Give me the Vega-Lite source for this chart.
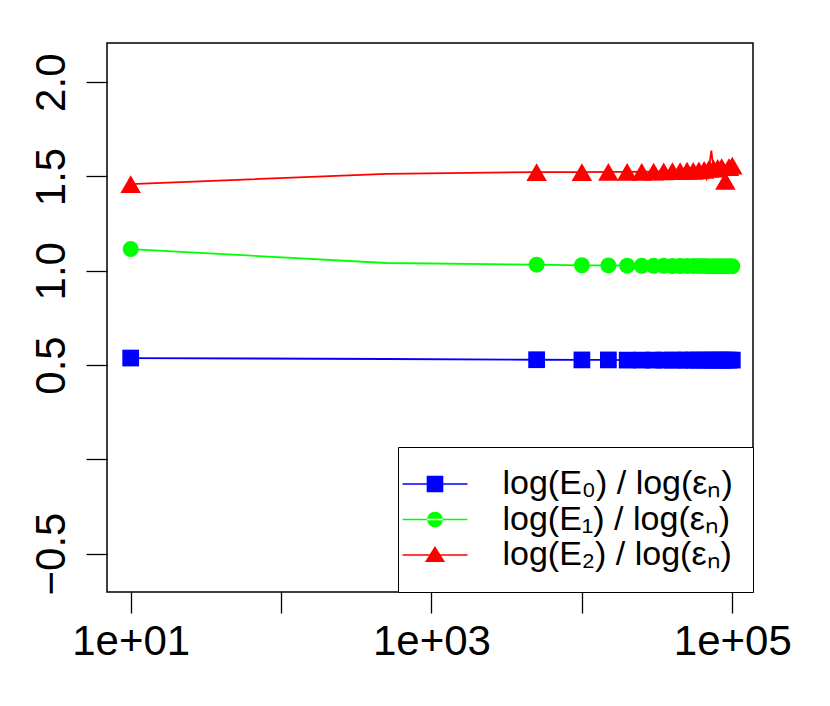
{
  "$schema": "https://vega.github.io/schema/vega-lite/v6.json",
  "width": 646,
  "height": 549,
  "autosize": {"type": "none"},
  "padding": {"left": 107, "top": 43, "right": 77, "bottom": 114},
  "background": "#ffffff",
  "data": {
    "values": [
      {"N": 10, "series": "E0", "value": 0.537},
      {"N": 500, "series": "E0", "value": 0.532},
      {"N": 5000, "series": "E0", "value": 0.528},
      {"N": 10000, "series": "E0", "value": 0.527},
      {"N": 15000, "series": "E0", "value": 0.527},
      {"N": 20000, "series": "E0", "value": 0.526},
      {"N": 25000, "series": "E0", "value": 0.526},
      {"N": 30000, "series": "E0", "value": 0.526},
      {"N": 35000, "series": "E0", "value": 0.526},
      {"N": 40000, "series": "E0", "value": 0.526},
      {"N": 45000, "series": "E0", "value": 0.526},
      {"N": 50000, "series": "E0", "value": 0.526},
      {"N": 55000, "series": "E0", "value": 0.526},
      {"N": 60000, "series": "E0", "value": 0.526},
      {"N": 65000, "series": "E0", "value": 0.526},
      {"N": 70000, "series": "E0", "value": 0.526},
      {"N": 75000, "series": "E0", "value": 0.526},
      {"N": 80000, "series": "E0", "value": 0.526},
      {"N": 85000, "series": "E0", "value": 0.526},
      {"N": 90000, "series": "E0", "value": 0.526},
      {"N": 95000, "series": "E0", "value": 0.526},
      {"N": 100000, "series": "E0", "value": 0.526},
      {"N": 10, "series": "E1", "value": 1.115},
      {"N": 500, "series": "E1", "value": 1.041},
      {"N": 5000, "series": "E1", "value": 1.032},
      {"N": 10000, "series": "E1", "value": 1.029},
      {"N": 15000, "series": "E1", "value": 1.028},
      {"N": 20000, "series": "E1", "value": 1.027},
      {"N": 25000, "series": "E1", "value": 1.026},
      {"N": 30000, "series": "E1", "value": 1.026},
      {"N": 35000, "series": "E1", "value": 1.026},
      {"N": 40000, "series": "E1", "value": 1.025},
      {"N": 45000, "series": "E1", "value": 1.025},
      {"N": 50000, "series": "E1", "value": 1.025},
      {"N": 55000, "series": "E1", "value": 1.025},
      {"N": 60000, "series": "E1", "value": 1.025},
      {"N": 65000, "series": "E1", "value": 1.025},
      {"N": 70000, "series": "E1", "value": 1.024},
      {"N": 75000, "series": "E1", "value": 1.024},
      {"N": 80000, "series": "E1", "value": 1.024},
      {"N": 85000, "series": "E1", "value": 1.024},
      {"N": 90000, "series": "E1", "value": 1.024},
      {"N": 95000, "series": "E1", "value": 1.024},
      {"N": 100000, "series": "E1", "value": 1.024},
      {"N": 10, "series": "E2", "value": 1.459},
      {"N": 500, "series": "E2", "value": 1.514},
      {"N": 5000, "series": "E2", "value": 1.523},
      {"N": 10000, "series": "E2", "value": 1.523},
      {"N": 15000, "series": "E2", "value": 1.524},
      {"N": 20000, "series": "E2", "value": 1.524},
      {"N": 25000, "series": "E2", "value": 1.525},
      {"N": 30000, "series": "E2", "value": 1.526},
      {"N": 35000, "series": "E2", "value": 1.527},
      {"N": 40000, "series": "E2", "value": 1.528},
      {"N": 45000, "series": "E2", "value": 1.529},
      {"N": 50000, "series": "E2", "value": 1.531},
      {"N": 55000, "series": "E2", "value": 1.530},
      {"N": 60000, "series": "E2", "value": 1.533},
      {"N": 62500, "series": "E2", "value": 1.545},
      {"N": 65000, "series": "E2", "value": 1.535},
      {"N": 67500, "series": "E2", "value": 1.490},
      {"N": 70000, "series": "E2", "value": 1.540},
      {"N": 72500, "series": "E2", "value": 1.637},
      {"N": 75000, "series": "E2", "value": 1.542},
      {"N": 77500, "series": "E2", "value": 1.548},
      {"N": 80000, "series": "E2", "value": 1.545},
      {"N": 85000, "series": "E2", "value": 1.550},
      {"N": 87500, "series": "E2", "value": 1.535},
      {"N": 90000, "series": "E2", "value": 1.477},
      {"N": 92500, "series": "E2", "value": 1.555},
      {"N": 95000, "series": "E2", "value": 1.550},
      {"N": 100000, "series": "E2", "value": 1.558}
    ]
  },
  "encoding": {
    "x": {
      "field": "N",
      "type": "quantitative",
      "title": null,
      "scale": {"type": "log", "domain": [6.958, 137300], "nice": false},
      "axis": {
        "values": [10, 100, 1000, 10000, 100000],
        "labelExpr": "datum.value == 10 ? '1e+01' : datum.value == 1000 ? '1e+03' : datum.value == 100000 ? '1e+05' : ''",
        "labelPadding": 8
      }
    },
    "y": {
      "field": "value",
      "type": "quantitative",
      "title": null,
      "scale": {"domain": [-0.704, 2.208], "nice": false, "zero": false},
      "axis": {
        "values": [-0.5, 0, 0.5, 1, 1.5, 2],
        "labelExpr": "datum.value == 0 ? '' : format(datum.value, '.1f')",
        "labelAngle": 270,
        "labelAlign": "center",
        "labelBaseline": "alphabetic",
        "labelPadding": 22
      }
    },
    "color": {
      "field": "series",
      "type": "nominal",
      "scale": {"domain": ["E0", "E1", "E2"], "range": ["#0000ff", "#00ff00", "#ff0000"]},
      "legend": null
    }
  },
  "layer": [
    {
      "mark": {"type": "line", "strokeWidth": 1.8}
    },
    {
      "transform": [{"filter": "datum.series == 'E0' && (datum.N == 10 || datum.N % 5000 == 0)"}],
      "mark": {"type": "point", "shape": "square", "filled": true, "size": 280, "opacity": 1}
    },
    {
      "transform": [{"filter": "datum.series == 'E1' && (datum.N == 10 || datum.N % 5000 == 0)"}],
      "mark": {"type": "point", "shape": "circle", "filled": true, "size": 256, "opacity": 1}
    },
    {
      "transform": [{"filter": "datum.series == 'E2' && (datum.N == 10 || datum.N % 5000 == 0)"}],
      "mark": {"type": "point", "shape": "triangle-up", "filled": true, "size": 420, "opacity": 1}
    },
    {
      "mark": {"type": "point", "filled": true, "opacity": 1, "size": 0},
      "encoding": {
        "color": {
          "field": "series",
          "type": "nominal",
          "scale": {"domain": ["E0", "E1", "E2"], "range": ["#0000ff", "#00ff00", "#ff0000"]},
          "legend": {
            "title": null,
            "orient": "bottom-right",
            "offset": 0,
            "padding": 20,
            "fillColor": "#ffffff",
            "strokeColor": "#000000",
            "symbolSize": 1024,
            "symbolStrokeWidth": 0,
            "labelFont": "Liberation Sans",
            "labelFontSize": 34,
            "labelColor": "#000000",
            "labelOffset": 50.5,
            "labelLimit": 0,
            "rowPadding": 1.5,
            "labelExpr": "datum.label == 'E0' ? 'log(E₀) / log(εₙ)' : datum.label == 'E1' ? 'log(E₁) / log(εₙ)' : 'log(E₂) / log(εₙ)'"
          }
        },
        "shape": {
          "field": "series",
          "type": "nominal",
          "scale": {
            "domain": ["E0", "E1", "E2"],
            "range": [
              "M-2.03,-0.045H2.03V0.045H-2.03ZM-0.52,-0.52H0.52V0.52H-0.52Z",
              "M-2.03,-0.045H2.03V0.045H-2.03ZM-0.49,0A0.49,0.49 0 1,0 0.49,0A0.49,0.49 0 1,0 -0.49,0Z",
              "M-2.03,-0.045H2.03V0.045H-2.03ZM0,-0.57L0.63,0.43H-0.63Z"
            ]
          },
          "legend": {
            "title": null,
            "orient": "bottom-right",
            "offset": 0,
            "padding": 20,
            "fillColor": "#ffffff",
            "strokeColor": "#000000",
            "symbolSize": 1024,
            "symbolStrokeWidth": 0,
            "labelFont": "Liberation Sans",
            "labelFontSize": 34,
            "labelColor": "#000000",
            "labelOffset": 50.5,
            "labelLimit": 0,
            "rowPadding": 1.5,
            "labelExpr": "datum.label == 'E0' ? 'log(E₀) / log(εₙ)' : datum.label == 'E1' ? 'log(E₁) / log(εₙ)' : 'log(E₂) / log(εₙ)'"
          }
        }
      }
    }
  ],
  "resolve": {"legend": {"color": "independent", "shape": "independent"}},
  "config": {
    "view": {"stroke": "#000000", "strokeWidth": 1.5},
    "axis": {
      "grid": false,
      "domain": false,
      "ticks": true,
      "tickSize": 21,
      "tickColor": "#000000",
      "tickWidth": 1.3,
      "labelFont": "Liberation Sans",
      "labelFontSize": 42,
      "labelColor": "#000000",
      "labelOverlap": false,
      "labelFlush": false,
      "labelBound": false
    }
  }
}
